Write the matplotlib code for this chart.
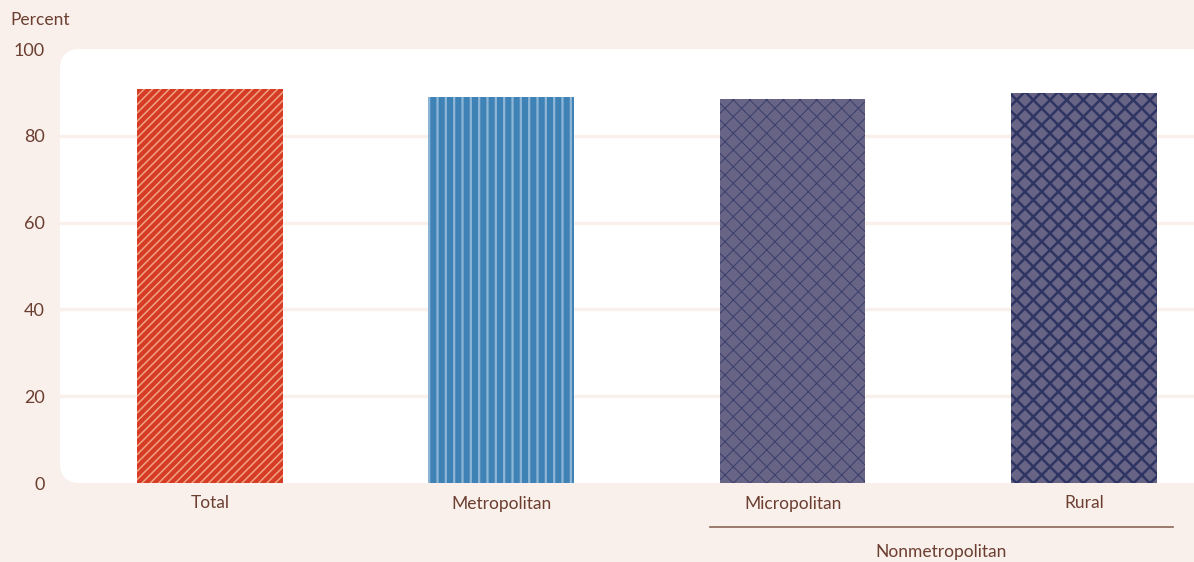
import matplotlib
matplotlib.use("Agg")
import matplotlib.pyplot as plt
import matplotlib.patches as patches
from matplotlib.lines import Line2D

categories = ["Total", "Metropolitan", "Micropolitan", "Rural"]
values = [90.8, 88.9, 88.5, 89.9]
yticks = [0, 20, 40, 60, 80, 100]
group_label = "Nonmetropolitan"

bg = "#f9f0eb"
txt = "#6b3e30"
face_colors = ["#d63c25", "#3f82b5", "#676485", "#676485"]
hatch_colors = ["#f0a282", "#8fb5d6", "#3a3e6c", "#2f3563"]
hatches = ["////", "||", "xx", "xx"]
hatch_lw = [1.1, 1.6, 0.7, 1.8]

plt.rcParams['font.family'] = ['Lato', 'DejaVu Sans']

fig = plt.figure(figsize=(11.94, 5.62), dpi=100, facecolor=bg)

# white rounded panel behind the plot (pixel coords)
panel = patches.FancyBboxPatch((60, 79), 1200, 434,
                               boxstyle="round,pad=0,rounding_size=20",
                               facecolor="white", edgecolor="none",
                               transform=None, zorder=-1)
fig.patches.append(panel)

ax = fig.add_axes([60 / 1194, 79 / 562, 1134 / 1194, 434 / 562])
ax.set_facecolor("none")
ax.set_xlim(-0.515, 3.378)
ax.set_ylim(0, 100)

for y in yticks[1:-1]:
    ax.axhline(y, color=bg, linewidth=2.4, zorder=0)

x = list(range(len(categories)))
for i in x:
    with plt.rc_context({'hatch.linewidth': hatch_lw[i]}):
        b = ax.bar(x[i], values[i], width=0.5, color=face_colors[i],
                   edgecolor=hatch_colors[i], linewidth=0, hatch=hatches[i],
                   zorder=2)
    for p in b:
        if hasattr(p, "set_hatch_linewidth"):
            p.set_hatch_linewidth(hatch_lw[i])

for s in ax.spines.values():
    s.set_visible(False)

ax.set_yticks(yticks)
ax.set_yticklabels([str(t) for t in yticks])
ax.set_xticks(x)
ax.set_xticklabels(categories)
ax.tick_params(axis="y", length=0, pad=11, labelsize=13, labelcolor=txt)
ax.tick_params(axis="x", length=0, pad=9, labelsize=12.5, labelcolor=txt)

fig.text(10 / 1194, 1 - 20 / 562, "Percent", fontsize=12.5, color=txt,
         ha="left", va="center")

# bracket for the nonmetropolitan group
fig.add_artist(Line2D([710 / 1194, 1173 / 1194], [1 - 527 / 562, 1 - 527 / 562],
                      color="#8a6658", linewidth=1.2))
fig.text(941 / 1194, 1 - 552 / 562, group_label, fontsize=12.5, color=txt,
         ha="center", va="center")

fig.savefig("out.png", dpi=100, facecolor=bg)
